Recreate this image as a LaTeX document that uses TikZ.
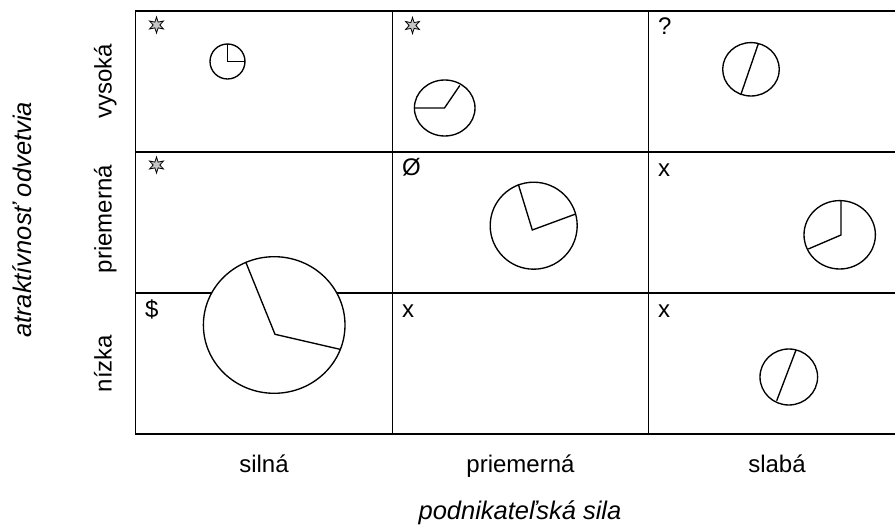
\documentclass[tikz,border=0pt]{standalone}
\usepackage{fontspec}
\setmainfont{Liberation Sans}
\usetikzlibrary{shapes.geometric}
\begin{document}
\begin{tikzpicture}[x=1pt,y=-1pt,
  gridline/.style={line width=1.8pt, line cap=rect},
  pie/.style={line width=1.35pt},
  piebody/.style={pie, fill=white},
  lbl/.style={font=\fontsize{24}{28}\selectfont, inner sep=0pt},
  corner/.style={lbl, anchor=base west},
  axis/.style={lbl, anchor=base},
  axistitle/.style={lbl, anchor=base, font=\fontsize{25.5}{30}\selectfont\itshape},
  mark6/.style={star, star points=6, star point ratio=2.4, minimum size=16pt,
                inner sep=0pt, draw=black, fill=gray!45, line width=0.8pt}]
\useasboundingbox (0,0) rectangle (895,526);

% portfolio grid (the right-hand border lies outside the frame)
\draw[gridline] (895,11) -- (135.5,11) -- (135.5,434) -- (895,434);
\draw[gridline] (135.5,152) -- (895,152);
\draw[gridline] (135.5,293) -- (895,293);
\draw[gridline] (392.5,11) -- (392.5,434);
\draw[gridline] (648.5,11) -- (648.5,434);

% cell markers
\node[mark6] (m11) at (156.5,25) {};
\node[mark6] (m12) at (412.5,25.5) {};
\node[corner] (m13) at (658,35) {?};
\node[mark6] (m21) at (156.5,165) {};
\node[corner] (m22) at (402,176) {Ø};
\node[corner] (m23) at (658,176.5) {x};
\node[corner] (m31) at (145,317.5) {\$};
\node[corner] (m32) at (402,317.5) {x};
\node[corner] (m33) at (658,317.5) {x};

% pie charts
% high attractiveness / strong
\draw[piebody] (227.5,61.5) circle [radius=17.5];
\coordinate (v1) at (227.5,61.5);
\draw[pie] (227.5,44) -- (v1) -- (245,61.5);
% high / average
\draw[piebody] (444.7,108) ellipse [x radius=30.3, y radius=28];
\coordinate (v2) at (444.5,108);
\draw[pie] (414.4,108) -- (v2) -- (459.8,85.5);
% high / weak
\draw[piebody] (751,69.3) ellipse [x radius=28.3, y radius=26.7];
\draw[pie] (758.5,43.2) -- (740.7,95);
% average / average
\draw[piebody] (533.7,225.7) circle [radius=43.5];
\coordinate (v4) at (532.3,230);
\draw[pie] (518.3,184.3) -- (v4) -- (575.7,214);
% low / strong (overlaps the row above)
\draw[piebody] (274.2,325) ellipse [x radius=70.8, y radius=68.3];
\coordinate (v5) at (275,334.3);
\draw[pie] (246,262.7) -- (v5) -- (340,349.3);
% average / weak
\draw[piebody] (839.7,234.8) ellipse [x radius=35.7, y radius=34.2];
\coordinate (v6) at (841,235);
\draw[pie] (841,200.7) -- (v6) -- (808.3,249);
% low / weak
\draw[piebody] (788.8,377) ellipse [x radius=28.8, y radius=28];
\draw[pie] (796,350) -- (776.7,400.7);

% column headings
\node[axis] (c1) at (264,473) {silná};
\node[axis] (c2) at (520.5,473) {priemerná};
\node[axis] (c3) at (777,473) {slabá};
\node[axistitle] (xt) at (520,520) {podnikateľská sila};

% row headings
\node[axis, rotate=90] (r1) at (111.5,81.5) {vysoká};
\node[axis, rotate=90] (r2) at (111.5,219) {priemerná};
\node[axis, rotate=90] (r3) at (111.5,363.5) {nízka};
\node[axistitle, rotate=90] (yt) at (31,220) {atraktívnosť odvetvia};
\end{tikzpicture}
\end{document}
